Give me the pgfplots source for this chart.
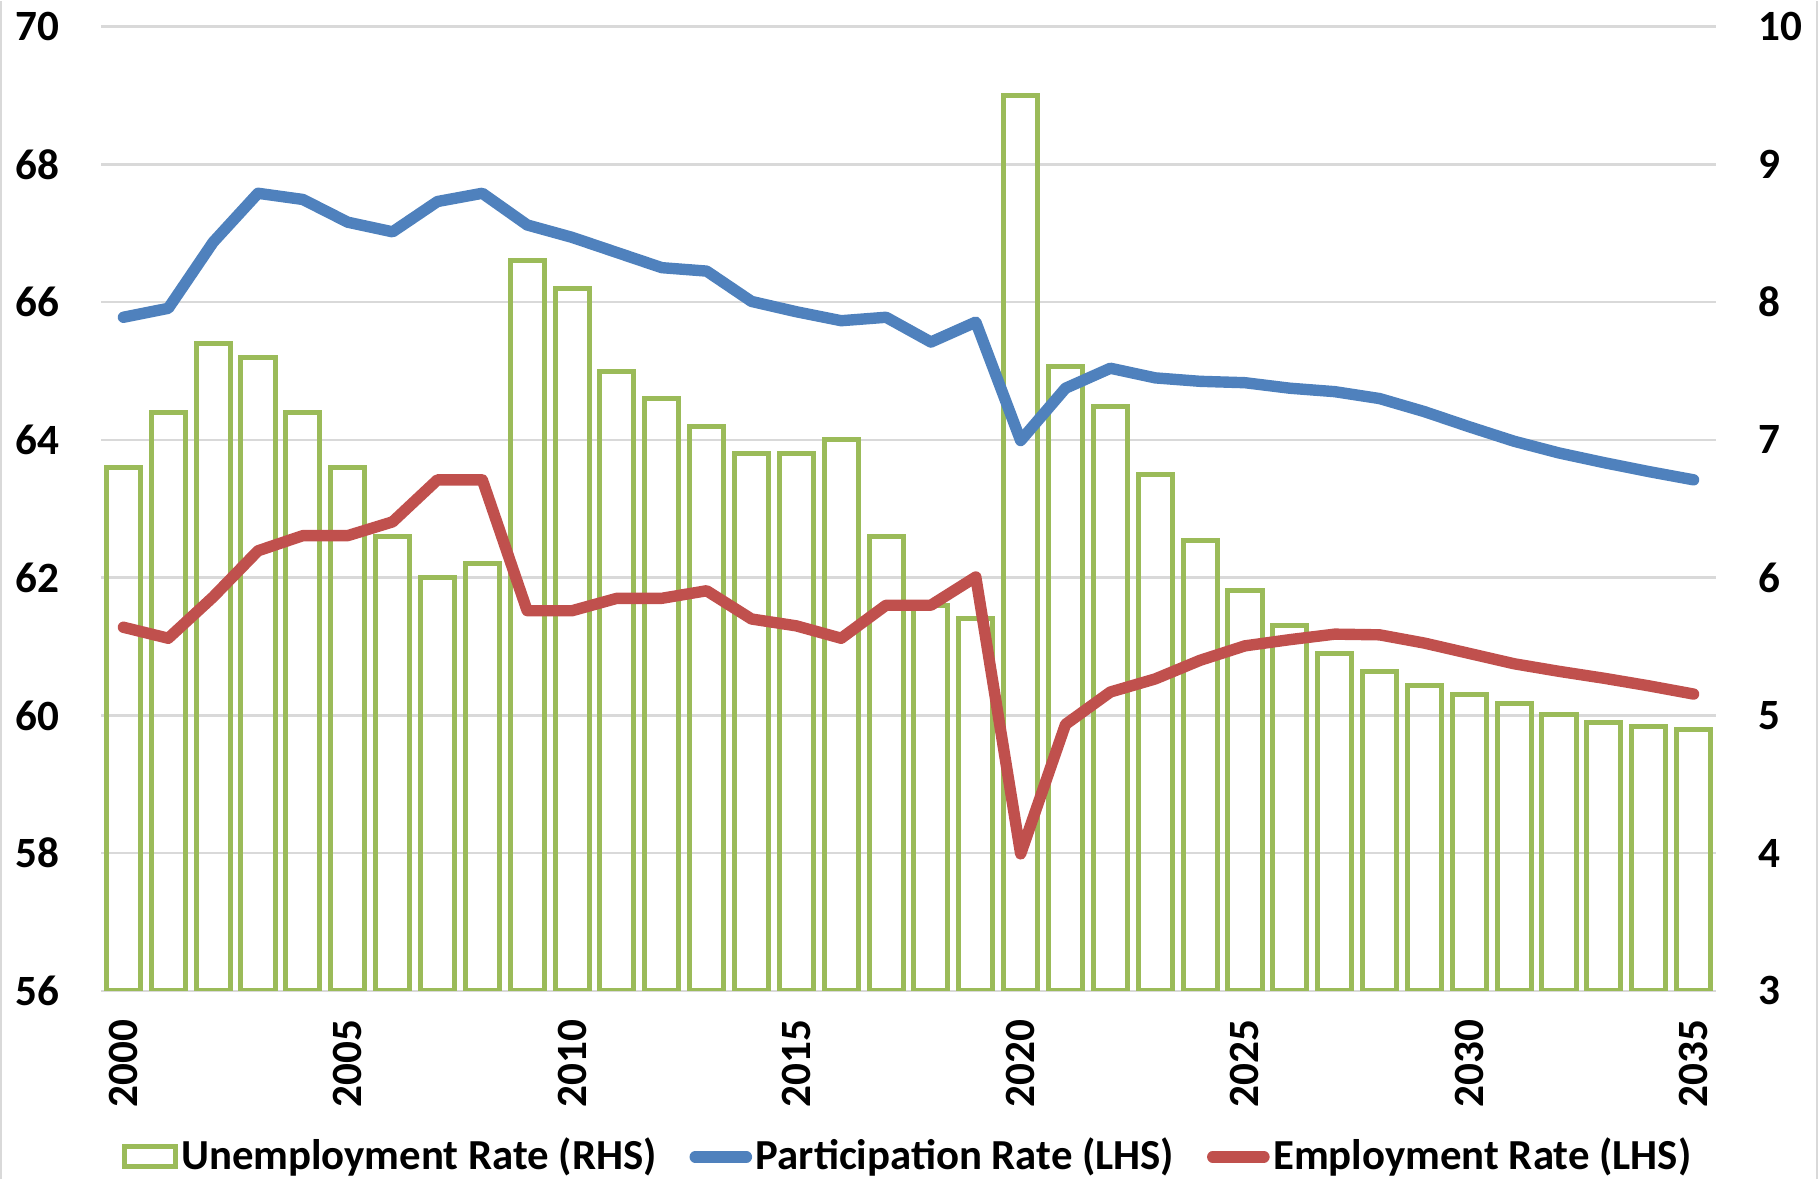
\documentclass[border=0pt]{standalone}
\usepackage{fontspec}
\setmainfont{Carlito}
\usepackage{pgfplots}
\usepackage{pgfplotstable}
\pgfplotsset{compat=1.18}

\definecolor{ugreen}{HTML}{9BBB59}
\definecolor{pblue}{HTML}{4F81BD}
\definecolor{ered}{HTML}{C0504D}
\definecolor{gridgray}{HTML}{D9D9D9}

\pgfplotstableread{
year unemp part  emp
2000 6.80 65.78 61.28
2001 7.20 65.91 61.12
2002 7.70 66.87 61.72
2003 7.60 67.58 62.39
2004 7.20 67.49 62.61
2005 6.80 67.16 62.61
2006 6.30 67.02 62.81
2007 6.00 67.46 63.42
2008 6.10 67.58 63.42
2009 8.30 67.12 61.52
2010 8.10 66.94 61.52
2011 7.50 66.72 61.70
2012 7.30 66.50 61.70
2013 7.10 66.45 61.81
2014 6.90 66.01 61.40
2015 6.90 65.86 61.30
2016 7.00 65.73 61.12
2017 6.30 65.78 61.60
2018 5.80 65.42 61.60
2019 5.70 65.71 62.01
2020 9.50 63.99 57.99
2021 7.53 64.75 59.87
2022 7.24 65.04 60.34
2023 6.75 64.90 60.53
2024 6.27 64.85 60.80
2025 5.91 64.83 61.01
2026 5.65 64.75 61.10
2027 5.45 64.70 61.18
2028 5.32 64.60 61.17
2029 5.22 64.41 61.05
2030 5.15 64.19 60.90
2031 5.09 63.98 60.75
2032 5.01 63.81 60.64
2033 4.95 63.67 60.54
2034 4.92 63.54 60.43
2035 4.90 63.42 60.31
}\data

\pgfplotsset{
  common/.style={
    width=403.75pt, height=241.1pt, scale only axis,
    xmin=1999.5, xmax=2035.5,
    axis line style={draw=none},
    major tick length=0pt,
    tick style={draw=none},
    ticklabel style={font=\fontsize{10.8}{12}\selectfont\bfseries},
    /pgf/number format/assume math mode=true,
    /pgf/number format/1000 sep={},
  },
  barleg/.style={legend image code/.code={\draw[##1] (0pt,-2.5pt) rectangle (12.6pt,2.5pt);}},
  lineleg/.style={legend image code/.code={\draw[##1] (1.4pt,0pt) -- (14.2pt,0pt);}},
}

\begin{document}
\begin{tikzpicture}
% right axis: unemployment bars
\begin{axis}[common, name=ax,
    ymin=3, ymax=10, ytick={3,...,10},
    yticklabel pos=right,
    yticklabel style={anchor=west, inner sep=0pt, xshift=10.5pt},
    ymajorgrids, grid style={gridgray, line width=0.6pt},
    xtick={2000,2005,...,2035},
    xticklabel style={inner sep=0pt, yshift=-7pt, rotate=90, anchor=east},
  ]
  \addplot[ybar, bar width=0.76, bar shift=0pt, draw=ugreen, fill=none, line width=1.25pt]
    table[x=year, y=unemp] {\data};
\end{axis}
% left axis: participation and employment lines
\begin{axis}[common,
    ymin=56, ymax=70, ytick={56,58,...,70},
    yticklabel style={anchor=east, inner sep=0pt, xshift=-10.2pt},
    xtick=\empty,
    legend columns=3,
    legend style={at={(0.5,-0.172)}, anchor=center, draw=none, fill=none,
      font=\fontsize{10.7}{12}\selectfont\bfseries,
      nodes={inner sep=0.9pt},
      /tikz/every even column/.append style={column sep=7.3pt}},
  ]
  \addlegendimage{draw=ugreen, line width=1.25pt, barleg}
  \addlegendentry{Unemployment Rate (RHS)}
  \addplot[pblue, line width=2.85pt, line join=round, line cap=round, lineleg]
    table[x=year, y=part] {\data};
  \addlegendentry{Participation Rate (LHS)}
  \addplot[ered, line width=2.85pt, line join=round, line cap=round, lineleg]
    table[x=year, y=emp] {\data};
  \addlegendentry{Employment Rate (LHS)}
\end{axis}
\pgfresetboundingbox
\path ([xshift=-25.25pt, yshift=-47pt]ax.south west) rectangle ([xshift=25.5pt, yshift=6.4pt]ax.north east);
\draw[gridgray, line width=0.5pt] ([xshift=-25pt, yshift=-47pt]ax.south west) -- ([xshift=-25pt, yshift=6.4pt]ax.north west);
\draw[gridgray, line width=0.5pt] ([xshift=25.25pt, yshift=-47pt]ax.south east) -- ([xshift=25.25pt, yshift=6.4pt]ax.north east);
\end{tikzpicture}
\end{document}
